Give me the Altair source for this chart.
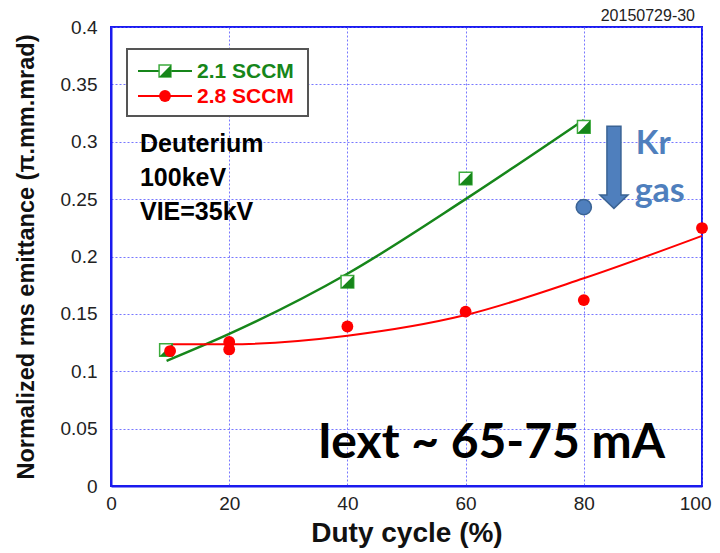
import altair as alt
import pandas as pd

# ---- data ----
duty_21 = [9.3, 40, 60, 80]
emit_21 = [0.1185, 0.178, 0.268, 0.313]
duty_28 = [10, 20, 20, 40, 60, 80, 100]
emit_28 = [0.1176, 0.1255, 0.119, 0.139, 0.152, 0.162, 0.2248]
fit_21_x = [9.4, 20, 40, 60, 80]
fit_21_y = [0.109, 0.1325, 0.185, 0.250, 0.319]
fit_28_x = [9.5, 20, 40, 60, 80, 100]
fit_28_y = [0.1235, 0.1235, 0.131, 0.149, 0.181, 0.218]
kr_x = [80]
kr_y = [0.243]
x_ticks = [0, 20, 40, 60, 80, 100]
y_ticks = [0, 0.05, 0.1, 0.15, 0.2, 0.25, 0.3, 0.35, 0.4]

GREEN = "#16861a"
GREEN_LIGHT = "#3cab3c"
RED = "#ff0000"
KR = "#4f7fbd"
KR_DARK = "#3a6394"
BLUE = "#1a1aee"

pts21 = pd.DataFrame({"x": duty_21, "y": emit_21})
pts28 = pd.DataFrame({"x": duty_28, "y": emit_28})
fit21 = pd.DataFrame({"x": fit_21_x, "y": fit_21_y})
fit28 = pd.DataFrame({"x": fit_28_x, "y": fit_28_y})
krdf = pd.DataFrame({"x": kr_x, "y": kr_y})
one = pd.DataFrame({"k": [0]})

X = alt.X("x:Q", scale=alt.Scale(domain=[0, 100], nice=False, zero=False),
          axis=alt.Axis(values=x_ticks, format="d", title="Duty cycle (%)",
                        labelAlign={"condition": {"test": "datum.value == 100", "value": "right"},
                                    "value": "center"},
                        labelOffset={"condition": {"test": "datum.value == 100", "value": 9},
                                     "value": 0}))
Y = alt.Y("y:Q", scale=alt.Scale(domain=[0, 0.4], nice=False),
          axis=alt.Axis(values=y_ticks, format=".2~f",
                        title="Normalized rms emittance (π.mm.mrad)"))

line21 = alt.Chart(fit21).mark_line(color=GREEN, strokeWidth=2.5, interpolate="monotone").encode(x=X, y=Y)
line28 = alt.Chart(fit28).mark_line(color=RED, strokeWidth=2, interpolate="monotone").encode(x=X, y=Y)

HALF = "M1,-1 L1,1 L-1,1 Z"
sq21_bg = alt.Chart(pts21).mark_point(shape="square", size=160, filled=True, fill="white",
                                      stroke=GREEN_LIGHT, strokeWidth=1.5, opacity=1).encode(x=X, y=Y)
sq21_fg = alt.Chart(pts21).mark_point(shape=HALF, size=160, filled=True, color=GREEN,
                                      opacity=1).encode(x=X, y=Y)
dots28 = alt.Chart(pts28).mark_circle(size=140, color=RED, opacity=1).encode(x=X, y=Y)
krdot = alt.Chart(krdf).mark_circle(size=230, color=KR, opacity=1, stroke=KR_DARK,
                                    strokeWidth=1.5).encode(x=X, y=Y)

ARROW = "M-0.171,-1 L0.171,-1 L0.171,0.674 L0.341,0.674 L0,1 L-0.341,0.674 L-0.171,0.674 Z"
arrow = alt.Chart(one).mark_point(shape=ARROW, size=6724, filled=True, fill=KR,
                                  stroke=KR_DARK, strokeWidth=1.5, opacity=1).encode(
    x=alt.datum(85.1), y=alt.datum(0.2777))

kr_txt = alt.Chart(one).mark_text(align="left", baseline="alphabetic", font="Lato",
                                  fontWeight="bold", fontSize=33, color=KR).encode(
    x=alt.datum(88.8), y=alt.datum(0.2895), text=alt.value("Kr"))
gas_txt = alt.Chart(one).mark_text(align="left", baseline="alphabetic", font="Lato",
                                   fontWeight="bold", fontSize=34, color=KR).encode(
    x=alt.datum(88.6), y=alt.datum(0.2475), text=alt.value("gas"))

deut = alt.Chart(one).mark_text(align="left", baseline="alphabetic", font="Liberation Sans",
                                fontWeight="bold", fontSize=25, color="black",
                                lineBreak="\n", lineHeight=34).encode(
    x=alt.datum(4.9), y=alt.datum(0.2915), text=alt.value("Deuterium\n100keV\nVIE=35kV"))

iext = alt.Chart(one).mark_text(align="left", baseline="alphabetic", font="Lato",
                                fontWeight="bold", fontSize=48, color="black").encode(
    x=alt.datum(35.0), y=alt.datum(0.0244), text=alt.value("Iext ~ 65-75 mA"))

date = alt.Chart(one).mark_text(align="right", baseline="middle", font="Liberation Sans",
                                fontSize=16, color="#222").encode(
    x=alt.value(584), y=alt.value(-11), text=alt.value("20150729-30"))

# legend (drawn by hand)
lg_box = alt.Chart(one).mark_rect(fill="white", stroke="#555", strokeWidth=2).encode(
    x=alt.value(16), x2=alt.value(197), y=alt.value(22), y2=alt.value(89))
lg_l1 = alt.Chart(one).mark_rule(color=GREEN, strokeWidth=2).encode(
    x=alt.value(27), x2=alt.value(81), y=alt.value(44))
lg_l2 = alt.Chart(one).mark_rule(color=RED, strokeWidth=2).encode(
    x=alt.value(27), x2=alt.value(81), y=alt.value(69))
lg_s1 = alt.Chart(one).mark_point(shape="square", size=140, filled=True, fill="white",
                                  stroke=GREEN_LIGHT, strokeWidth=1.5, opacity=1).encode(
    x=alt.value(54), y=alt.value(44))
lg_s2 = alt.Chart(one).mark_point(shape=HALF, size=140, filled=True, color=GREEN, opacity=1).encode(
    x=alt.value(54), y=alt.value(44))
lg_c = alt.Chart(one).mark_circle(size=140, color=RED, opacity=1).encode(
    x=alt.value(54), y=alt.value(69))
lg_t1 = alt.Chart(one).mark_text(align="left", baseline="middle", font="Liberation Sans",
                                 fontWeight="bold", fontSize=21, color=GREEN).encode(
    x=alt.value(86), y=alt.value(45), text=alt.value("2.1 SCCM"))
lg_t2 = alt.Chart(one).mark_text(align="left", baseline="middle", font="Liberation Sans",
                                 fontWeight="bold", fontSize=21, color=RED).encode(
    x=alt.value(86), y=alt.value(70), text=alt.value("2.8 SCCM"))

chart = alt.layer(
    line21, line28, sq21_bg, sq21_fg, dots28, krdot, arrow, kr_txt, gas_txt,
    deut, iext, date, lg_box, lg_l1, lg_l2, lg_s1, lg_s2, lg_c, lg_t1, lg_t2
).properties(
    width=591, height=459,
    padding={"left": 103, "top": 19, "right": 10, "bottom": 66},
    autosize=alt.AutoSizeParams(type="none"),
    background="white",
).configure_view(
    stroke=BLUE, strokeWidth=2
).configure_axis(
    domainColor=BLUE, domainWidth=2,
    gridColor="#5555ff", gridDash=[2, 2], gridWidth=1, gridOpacity=0.8,
    ticks=False, labelFlush=False,
    labelFont="Liberation Sans", labelFontSize=19, labelColor="#222",
    titleFont="Liberation Sans", titleFontWeight="bold", titleColor="#111",
).configure_axisX(
    labelPadding=8, titleFontSize=28, titlePadding=6,
).configure_axisY(
    labelPadding=14, titleFontSize=23.5, titlePadding=22,
)

chart.save("out.html", embed_options={"renderer": "svg", "actions": False})
